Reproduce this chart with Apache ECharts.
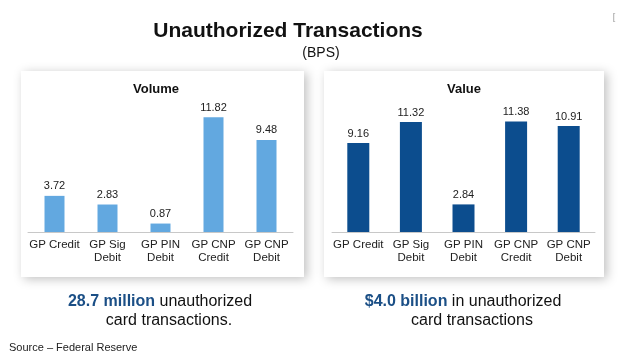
<!DOCTYPE html>
<html><head><meta charset="utf-8">
<script src="https://cdn.jsdelivr.net/npm/echarts@6/dist/echarts.min.js"></script>
<style>html,body{margin:0;padding:0;background:#fff}#c{width:628px;height:363px}</style>
</head><body><div id="c"></div>
<script>
const categories = ['GP Credit', 'GP Sig\nDebit', 'GP PIN\nDebit', 'GP CNP\nCredit', 'GP CNP\nDebit'];
const volumeValues = [3.72, 2.83, 0.87, 11.82, 9.48];
const valueValues = [9.16, 11.32, 2.84, 11.38, 10.91];

const chart = echarts.init(document.getElementById('c'), null, {renderer: 'canvas'});
const font = 'Liberation Sans, Arial, sans-serif';
const xAxisCommon = {
  type: 'category', data: categories,
  axisLine: {lineStyle: {color: '#c8c8c8', width: 1}},
  axisTick: {show: false},
  axisLabel: {color: '#222', fontFamily: font, fontSize: 11.5, lineHeight: 13, margin: 6, interval: 0}
};
const yAxisCommon = {type: 'value', min: 0, max: 14, show: false, splitLine: {show: false}};
const labelCommon = {show: true, position: 'top', color: '#222', fontFamily: font, fontSize: 11, distance: 4, formatter: p => p.value.toFixed(2)};

chart.setOption({
  animation: false,
  backgroundColor: '#fff',
  graphic: [
    {type: 'rect', shape: {x: 21, y: 71, width: 283, height: 206}, style: {fill: '#fff', shadowBlur: 10, shadowColor: 'rgba(0,0,0,0.25)', shadowOffsetX: 3, shadowOffsetY: 2}, z: -10},
    {type: 'rect', shape: {x: 324, y: 71, width: 280, height: 206}, style: {fill: '#fff', shadowBlur: 10, shadowColor: 'rgba(0,0,0,0.25)', shadowOffsetX: 3, shadowOffsetY: 2}, z: -10},
    {type: 'text', x: 288, y: 31, style: {text: 'Unauthorized Transactions', fill: '#111', font: 'bold 21px ' + font, textAlign: 'center', textVerticalAlign: 'middle'}},
    {type: 'text', x: 321, y: 53, style: {text: '(BPS)', fill: '#111', font: '14px ' + font, textAlign: 'center', textVerticalAlign: 'middle'}},
    {type: 'text', x: 614, y: 18, style: {text: '[', fill: '#999', font: '9px ' + font, textAlign: 'center', textVerticalAlign: 'middle'}},
    {type: 'text', x: 156, y: 89, style: {text: 'Volume', fill: '#111', font: 'bold 13px ' + font, textAlign: 'center', textVerticalAlign: 'middle'}},
    {type: 'text', x: 464, y: 89, style: {text: 'Value', fill: '#111', font: 'bold 13px ' + font, textAlign: 'center', textVerticalAlign: 'middle'}},
    {type: 'text', x: 160, y: 302, style: {text: '{b|28.7 million} unauthorized', rich: {b: {fill: '#1b4f86', font: 'bold 16px ' + font}}, fill: '#111', font: '16px ' + font, textAlign: 'center', textVerticalAlign: 'middle'}},
    {type: 'text', x: 169, y: 321, style: {text: 'card transactions.', fill: '#111', font: '16px ' + font, textAlign: 'center', textVerticalAlign: 'middle'}},
    {type: 'text', x: 463, y: 302, style: {text: '{b|$4.0 billion} in unauthorized', rich: {b: {fill: '#1b4f86', font: 'bold 16px ' + font}}, fill: '#111', font: '16px ' + font, textAlign: 'center', textVerticalAlign: 'middle'}},
    {type: 'text', x: 472, y: 321, style: {text: 'card transactions', fill: '#111', font: '16px ' + font, textAlign: 'center', textVerticalAlign: 'middle'}},
    {type: 'text', x: 9, y: 348, style: {text: 'Source \u2013 Federal Reserve', fill: '#222', font: '11px ' + font, textAlign: 'left', textVerticalAlign: 'middle'}}
  ],
  grid: [
    {left: 28, top: 96, width: 265, height: 136},
    {left: 332, top: 96, width: 263, height: 136}
  ],
  xAxis: [
    Object.assign({gridIndex: 0}, xAxisCommon),
    Object.assign({gridIndex: 1}, xAxisCommon)
  ],
  yAxis: [
    Object.assign({gridIndex: 0}, yAxisCommon),
    Object.assign({gridIndex: 1}, yAxisCommon)
  ],
  series: [
    {type: 'bar', xAxisIndex: 0, yAxisIndex: 0, data: volumeValues, barWidth: 20, itemStyle: {color: '#62a8e0'}, label: labelCommon},
    {type: 'bar', xAxisIndex: 1, yAxisIndex: 1, data: valueValues, barWidth: 22, itemStyle: {color: '#0c4d8e'}, label: labelCommon}
  ]
});
</script></body></html>
